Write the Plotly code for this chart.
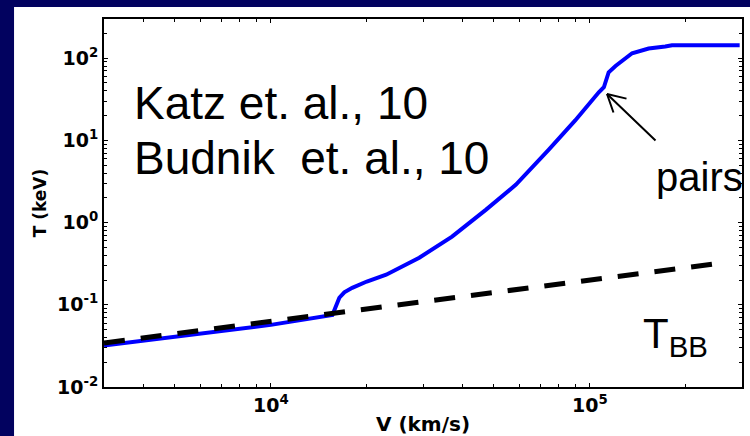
import math
import plotly.graph_objects as go

# Shock temperature vs velocity (blue curve)
V_curve = [3000, 6000, 10000, 15600, 16000, 16400, 17000, 18000, 20000, 23000,
           29200, 37000, 47300, 58700, 74500, 90000, 106700, 110700, 114600,
           120400, 135700, 152900, 172400, 181000, 295000]
T_curve = [0.032, 0.045, 0.057, 0.075, 0.098, 0.122, 0.142, 0.161, 0.192, 0.232,
           0.374, 0.675, 1.44, 2.9, 7.76, 17.5, 38.5, 44.3, 67.5,
           80.5, 115, 131, 139, 144, 144]

# Black-body temperature (dashed line)
V_bb = [3000, 248000]
T_bb = [0.0344, 0.316]

x_range = [3000, 300000]
y_range = [0.01, 300]
y_exps = [-2, -1, 0, 1, 2]
x_exps = [4, 5]


def sup(p):
    return "10<sup>" + ("-" if p < 0 else "") + str(abs(p)) + "</sup>"


y_minor = [m * 10 ** p for p in range(-2, 3) for m in range(2, 10) if m * 10 ** p <= 300]
x_minor = [m * 10 ** p for p in range(3, 6) for m in range(2, 10) if 3000 <= m * 10 ** p <= 300000]

navy = "#02025f"
tick_font = dict(family="DejaVu Sans", size=19, color="black", weight="bold")

fig = go.Figure()
fig.add_trace(go.Scatter(x=V_curve, y=T_curve, mode="lines",
                         line=dict(color="#0000ff", width=4), hoverinfo="skip"))
fig.add_trace(go.Scatter(x=V_bb, y=T_bb, mode="lines",
                         line=dict(color="black", width=5, dash="21px,16px"),
                         hoverinfo="skip"))

axis_common = dict(showgrid=False, zeroline=False, showline=True, linecolor="black",
                   linewidth=2, mirror="ticks", ticks="inside", ticklen=4,
                   tickcolor="black", tickwidth=1, tickfont=tick_font, automargin=False)

fig.update_xaxes(type="log", range=[math.log10(v) for v in x_range],
                 tickmode="array", tickvals=[10 ** p for p in x_exps],
                 ticktext=[sup(p) for p in x_exps],
                 minor=dict(tickmode="array", tickvals=x_minor, ticks="inside",
                            ticklen=3, tickcolor="black", tickwidth=1, showgrid=False),
                 title=dict(text="V (km/s)", standoff=4,
                            font=dict(family="DejaVu Sans", size=20, color="black", weight="bold")),
                 **axis_common)
fig.update_yaxes(type="log", range=[math.log10(v) for v in y_range],
                 tickmode="array", tickvals=[10 ** p for p in y_exps],
                 ticktext=[sup(p) for p in y_exps],
                 minor=dict(tickmode="array", tickvals=y_minor, ticks="inside",
                            ticklen=3, tickcolor="black", tickwidth=1, showgrid=False),
                 title=dict(text="T (keV)", standoff=6,
                            font=dict(family="DejaVu Sans", size=17, color="black", weight="bold")),
                 **axis_common)

big = dict(family="Liberation Sans, Arial", size=46, color="black")
annotations = [
    dict(text="Katz et. al., 10", x=0.044, y=0.773, xanchor="left", yanchor="middle", font=big),
    dict(text="Budnik  et. al., 10", x=0.044, y=0.621, xanchor="left", yanchor="middle", font=big),
    dict(text="pairs", x=0.862, y=0.5696, xanchor="left", yanchor="middle",
         font=dict(family="Liberation Sans, Arial", size=40, color="black")),
    dict(text="T<sub>BB</sub>", x=0.842, y=0.2147, xanchor="left", yanchor="top",
         font=dict(family="Liberation Sans, Arial", size=42, color="black")),
    # arrow pointing at the pair-production kink
    dict(text="", x=0.7884, y=0.7962, ax=50, ay=48, showarrow=True, arrowhead=0,
         arrowwidth=2, arrowcolor="black", standoff=0, startstandoff=0),
    dict(text="", x=0.7884, y=0.7962, ax=21, ay=5, showarrow=True, arrowhead=0,
         arrowwidth=2, arrowcolor="black", standoff=0, startstandoff=0),
    dict(text="", x=0.7884, y=0.7962, ax=7, ay=20, showarrow=True, arrowhead=0,
         arrowwidth=2, arrowcolor="black", standoff=0, startstandoff=0),
]
for a in annotations:
    a.setdefault("xref", "paper")
    a.setdefault("yref", "paper")
    a.setdefault("showarrow", False)

fig.update_layout(
    width=750, height=436, autosize=False,
    margin=dict(l=104, r=8, t=19, b=49, autoexpand=False),
    paper_bgcolor=navy, plot_bgcolor="white",
    showlegend=False,
    annotations=annotations,
    shapes=[dict(type="rect", xref="paper", yref="paper", x0=-0.141, x1=1.05,
                 y0=-0.2, y1=1.0326, fillcolor="white", line=dict(width=0), layer="below")],
)

fig.write_html("out.html", config={"displayModeBar": False},
               post_script="document.body.style.margin='0';document.body.style.overflow='hidden';")
